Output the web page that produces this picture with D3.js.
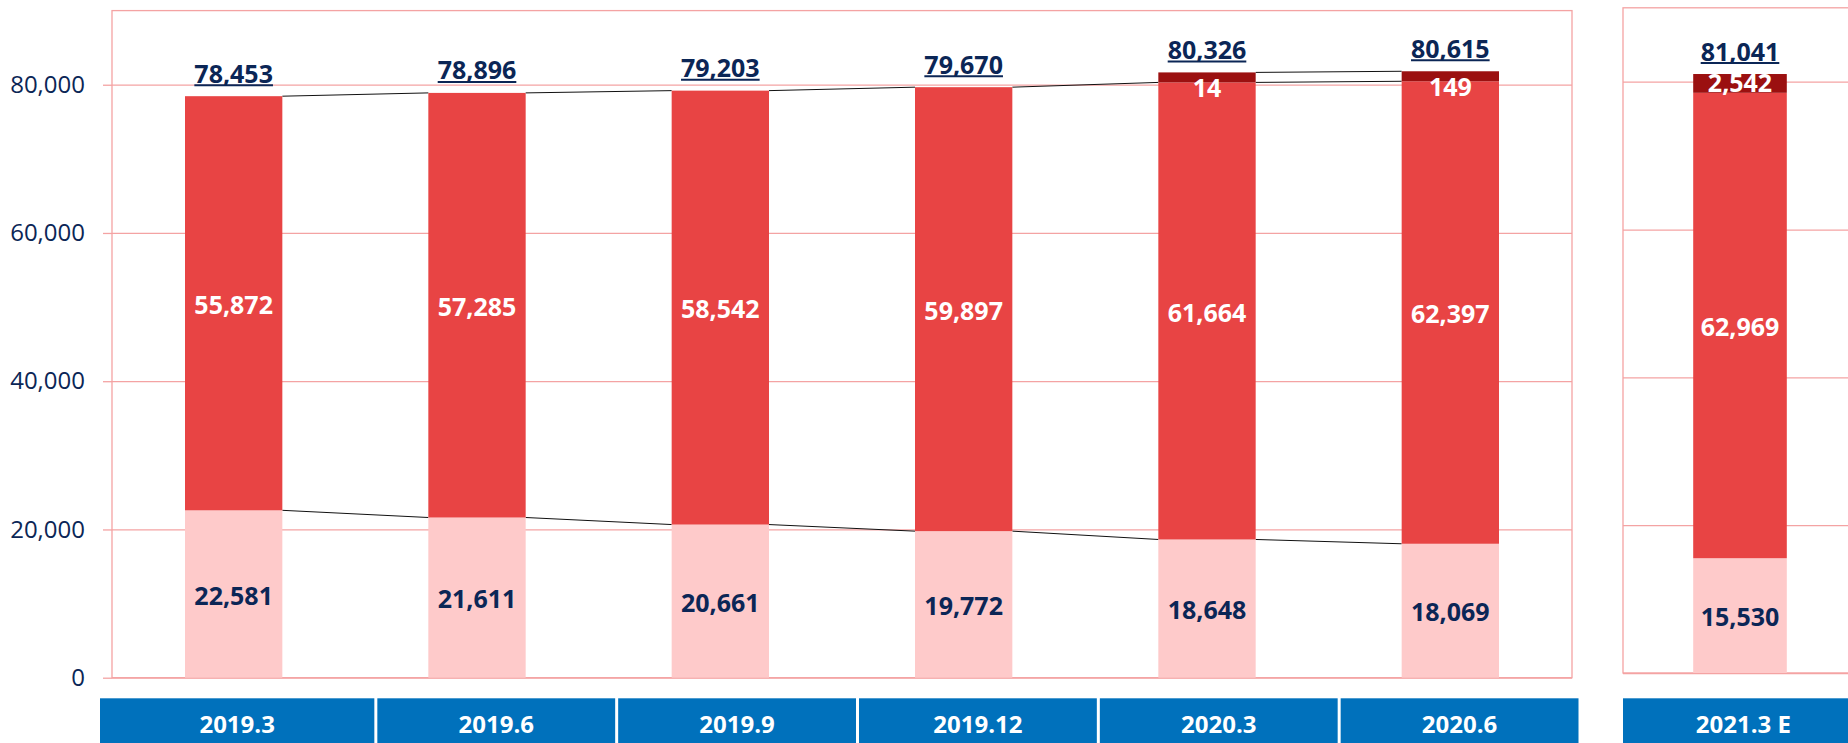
<!DOCTYPE html>
<html>
<head>
<meta charset="utf-8">
<script src="https://cdn.jsdelivr.net/npm/d3@7"></script>
<style>
    body { margin: 0; background: #fff; }
    text { font-family: "Open Sans", "Noto Sans", sans-serif; }
</style>
</head>
<body>
<script>
const categories = ["2019.3", "2019.6", "2019.9", "2019.12", "2020.3", "2020.6"];
const lightValues = [22581, 21611, 20661, 19772, 18648, 18069];
const redValues = [55872, 57285, 58542, 59897, 61664, 62397];
const darkValues = [0, 0, 0, 0, 14, 149];
const totals = [78453, 78896, 79203, 79670, 80326, 80615];

const fcCategories = ["2021.3 E"];
const fcLight = [15530];
const fcRed = [62969];
const fcDark = [2542];
const fcTotals = [81041];

const yTicks = [0, 20000, 40000, 60000, 80000];

function main() {
    const canvasWidth = 1848;
    const canvasHeight = 743;

    const navy = "#0b2656";
    const grid = "#f4a3a3";
    const colLight = "#fecaca";
    const colRed = "#e84444";
    const colDark = "#9b1010";
    const boxBlue = "#0071bc";
    const minDark = 10;

    const svg = d3.select("body").append("svg")
        .attr("width", canvasWidth)
        .attr("height", canvasHeight);

    const fmt = d3.format(",");

    const x = d3.scaleBand().domain(categories).range([112, 1572])
        .paddingInner(0.6).paddingOuter(0.3);
    const y = d3.scaleLinear().domain([0, 90000]).range([677.7, 10.6]);

    const xFc = d3.scaleBand().domain(fcCategories).range([1623, 1857])
        .paddingInner(0.6).paddingOuter(0.3);
    const yFc = d3.scaleLinear().domain([0, 90000]).range([673, 7.8]);

    // panels
    function panel(xs, ys, withLabels) {
        const left = xs.range()[0], right = xs.range()[1];
        const g = svg.append("g");
        g.append("rect")
            .attr("x", left).attr("y", ys.range()[1])
            .attr("width", right - left).attr("height", ys.range()[0] - ys.range()[1])
            .attr("fill", "#fff").attr("stroke", grid).attr("stroke-width", 1.3);
        const gridAxis = g.append("g")
            .attr("transform", "translate(" + left + ",0)")
            .call(d3.axisLeft(ys).tickValues(yTicks).tickSize(-(right - left)).tickFormat(""));
        gridAxis.select(".domain").remove();
        gridAxis.selectAll("line").attr("stroke", grid).attr("stroke-width", 1.3);
        if (withLabels) {
            const ax = g.append("g")
                .attr("transform", "translate(" + left + ",0)")
                .call(d3.axisLeft(ys).tickValues(yTicks).tickSize(9).tickPadding(18)
                    .tickFormat(d => fmt(d)));
            ax.select(".domain").remove();
            ax.selectAll("line").attr("stroke", grid).attr("stroke-width", 1.3);
            ax.selectAll("text")
                .style("font-family", "'Open Sans', 'Noto Sans', sans-serif")
                .style("font-size", "24px")
                .attr("fill", navy);
        }
    }
    panel(x, y, true);
    panel(xFc, yFc, false);

    function buildStack(cats, light, red, dark, tot, ys) {
        return cats.map((c, i) => {
            const lightTop = ys(light[i]);
            const redTop = ys(light[i] + red[i]);
            let darkTop = redTop;
            if (dark[i] > 0) {
                const h = Math.max(ys(0) - ys(dark[i]), minDark);
                darkTop = redTop - h;
            }
            return { cat: c, light: light[i], red: red[i], dark: dark[i], total: tot[i],
                base: ys(0), lightTop, redTop, darkTop };
        });
    }

    const mainStack = buildStack(categories, lightValues, redValues, darkValues, totals, y);
    const fcStack = buildStack(fcCategories, fcLight, fcRed, fcDark, fcTotals, yFc);

    // connector lines
    const conn = svg.append("g");
    for (let i = 0; i < mainStack.length - 1; i++) {
        const a = mainStack[i], b = mainStack[i + 1];
        const x1 = x(a.cat) + x.bandwidth(), x2 = x(b.cat);
        conn.append("line").attr("x1", x1).attr("x2", x2)
            .attr("y1", a.lightTop).attr("y2", b.lightTop);
        conn.append("line").attr("x1", x1).attr("x2", x2)
            .attr("y1", a.redTop).attr("y2", b.redTop);
        if (a.dark > 0 && b.dark > 0) {
            conn.append("line").attr("x1", x1).attr("x2", x2)
                .attr("y1", a.darkTop).attr("y2", b.darkTop);
        }
    }
    conn.selectAll("line").attr("stroke", "#111").attr("stroke-width", 1);

    function drawBars(stack, xs) {
        const g = svg.append("g");
        const bw = xs.bandwidth();

        g.selectAll(".light").data(stack).enter().append("rect")
            .attr("x", d => xs(d.cat)).attr("width", bw)
            .attr("y", d => d.lightTop).attr("height", d => d.base - d.lightTop)
            .attr("fill", colLight);
        g.selectAll(".red").data(stack).enter().append("rect")
            .attr("x", d => xs(d.cat)).attr("width", bw)
            .attr("y", d => d.redTop).attr("height", d => d.lightTop - d.redTop)
            .attr("fill", colRed);
        g.selectAll(".dark").data(stack.filter(d => d.dark > 0)).enter().append("rect")
            .attr("x", d => xs(d.cat)).attr("width", bw)
            .attr("y", d => d.darkTop).attr("height", d => d.redTop - d.darkTop)
            .attr("fill", colDark);

        const labelStyle = sel => sel
            .attr("text-anchor", "middle")
            .style("font-size", "25px")
            .style("font-weight", "bold");

        g.selectAll(".lightLabel").data(stack).enter().append("text")
            .attr("x", d => xs(d.cat) + bw / 2)
            .attr("y", d => (d.base + d.lightTop) / 2 + 2)
            .attr("dy", "0.35em")
            .attr("fill", navy)
            .text(d => fmt(d.light))
            .call(labelStyle);

        g.selectAll(".redLabel").data(stack).enter().append("text")
            .attr("x", d => xs(d.cat) + bw / 2)
            .attr("y", d => (d.lightTop + d.redTop) / 2 + 2)
            .attr("dy", "0.35em")
            .attr("fill", "#fff")
            .text(d => fmt(d.red))
            .call(labelStyle);

        g.selectAll(".darkLabel").data(stack.filter(d => d.dark > 0)).enter().append("text")
            .attr("x", d => xs(d.cat) + bw / 2)
            .attr("y", d => (d.redTop - d.darkTop) < 16 ? d.redTop + 6 : (d.redTop + d.darkTop) / 2)
            .attr("dy", "0.35em")
            .attr("fill", "#fff")
            .text(d => fmt(d.dark))
            .call(labelStyle);

        const totalLabels = g.selectAll(".totalLabel").data(stack).enter().append("text")
            .attr("x", d => xs(d.cat) + bw / 2)
            .attr("y", d => d.darkTop - 13.5)
            .attr("fill", navy)
            .text(d => fmt(d.total))
            .call(labelStyle);

        totalLabels.each(function (d) {
            const w = this.getComputedTextLength();
            g.append("line")
                .attr("x1", xs(d.cat) + bw / 2 - w / 2)
                .attr("x2", xs(d.cat) + bw / 2 + w / 2)
                .attr("y1", d.darkTop - 11)
                .attr("y2", d.darkTop - 11)
                .attr("stroke", navy)
                .attr("stroke-width", 2);
        });
    }
    drawBars(mainStack, x);
    drawBars(fcStack, xFc);

    // category boxes
    const xBox = d3.scaleBand().domain(categories).range([135, 1580]);
    const boxes = svg.append("g");
    boxes.selectAll("rect").data(categories).enter().append("rect")
        .attr("x", (d, i) => i == 0 ? 100 : xBox(d) + 1.5)
        .attr("width", (d, i) => i == 0 ? xBox(d) + xBox.step() - 1.5 - 100 : xBox.step() - 3)
        .attr("y", 698.3)
        .attr("height", canvasHeight - 698.3)
        .attr("fill", boxBlue);
    boxes.selectAll("text").data(categories).enter().append("text")
        .attr("x", (d, i) => i == 0 ? (100 + xBox(d) + xBox.step() - 1.5) / 2 : xBox(d) + xBox.step() / 2)
        .attr("y", 733)
        .attr("text-anchor", "middle")
        .attr("fill", "#fff")
        .style("font-size", "24px")
        .style("font-weight", "bold")
        .text(d => d);

    const xBoxFc = d3.scaleBand().domain(fcCategories).range([1623, 1623 + xBox.step()]);
    boxes.selectAll(".fcBox").data(fcCategories).enter().append("rect")
        .attr("x", d => xBoxFc(d))
        .attr("width", xBoxFc.step())
        .attr("y", 698.3)
        .attr("height", canvasHeight - 698.3)
        .attr("fill", boxBlue);
    boxes.selectAll(".fcText").data(fcCategories).enter().append("text")
        .attr("x", d => xBoxFc(d) + xBoxFc.step() / 2)
        .attr("y", 733)
        .attr("text-anchor", "middle")
        .attr("fill", "#fff")
        .style("font-size", "24px")
        .style("font-weight", "bold")
        .text(d => d);
}
main();
</script>
</body>
</html>
